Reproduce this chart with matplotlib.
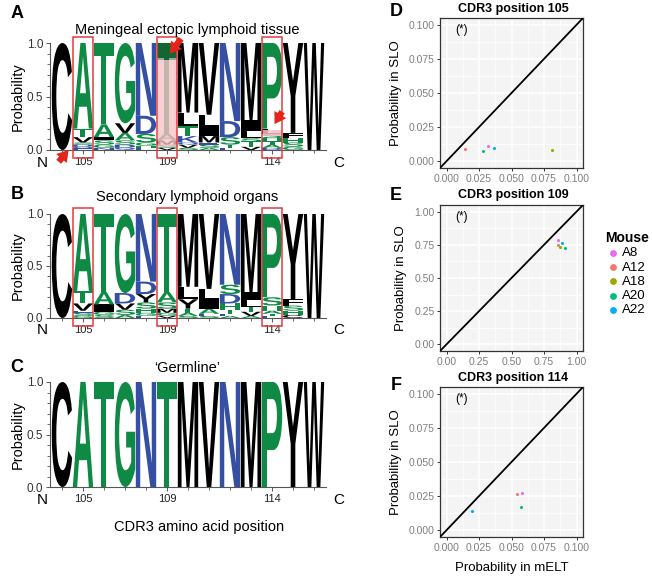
import numpy as np
import matplotlib
matplotlib.use('Agg')
import matplotlib.pyplot as plt
import matplotlib.transforms as mtransforms
from matplotlib.textpath import TextPath
from matplotlib.patches import PathPatch, Rectangle
from matplotlib.font_manager import FontProperties
from matplotlib.ticker import MultipleLocator, FixedLocator

plt.rcParams['font.family'] = ['Liberation Sans', 'DejaVu Sans']

# ---------------- data ----------------
positions = list(range(104, 117))
labelled_pos = [105, 109, 114]

# letters bottom -> top, heights in probability
melt_letters = ['C', 'EQDSVTA', 'NGSIAT', 'QDSAVG', 'EHGSDN', 'VSMAT', 'SVQKTLM',
                'ASEMILV', 'ETSDN', 'VTSLIM', 'DATHSLP', 'GSHFY', 'W']
melt_heights = [[1.0],
                [0.015, 0.015, 0.02, 0.02, 0.05, 0.08, 0.80],
                [0.02, 0.03, 0.04, 0.03, 0.12, 0.76],
                [0.02, 0.03, 0.04, 0.07, 0.09, 0.75],
                [0.02, 0.02, 0.03, 0.08, 0.17, 0.68],
                [0.02, 0.03, 0.04, 0.06, 0.85],
                [0.02, 0.03, 0.02, 0.06, 0.09, 0.13, 0.65],
                [0.02, 0.03, 0.02, 0.06, 0.08, 0.12, 0.67],
                [0.02, 0.03, 0.07, 0.15, 0.73],
                [0.03, 0.05, 0.03, 0.07, 0.10, 0.72],
                [0.02, 0.03, 0.03, 0.03, 0.04, 0.05, 0.80],
                [0.03, 0.04, 0.04, 0.05, 0.84],
                [1.0]]

slo_letters = ['C', 'GSEVTA', 'SGIAT', 'ASVDG', 'EGHSYDN', 'VGMSAT', 'SATYLM',
               'SEAILV', 'AETHDSN', 'AVTLIM', 'ETAHSP', 'CHSFY', 'W']
slo_heights = [[1.0],
               [0.02, 0.03, 0.02, 0.07, 0.12, 0.74],
               [0.03, 0.03, 0.07, 0.12, 0.75],
               [0.03, 0.05, 0.06, 0.10, 0.76],
               [0.02, 0.03, 0.04, 0.06, 0.08, 0.12, 0.65],
               [0.02, 0.03, 0.04, 0.06, 0.10, 0.75],
               [0.02, 0.03, 0.04, 0.09, 0.12, 0.70],
               [0.02, 0.02, 0.05, 0.08, 0.11, 0.72],
               [0.02, 0.02, 0.04, 0.06, 0.09, 0.09, 0.68],
               [0.02, 0.04, 0.05, 0.06, 0.08, 0.75],
               [0.02, 0.02, 0.03, 0.05, 0.08, 0.80],
               [0.03, 0.04, 0.05, 0.06, 0.82],
               [1.0]]

germline = 'CATGNTMVNMPYW'

mice = ['A8', 'A12', 'A18', 'A20', 'A22']
mouse_colors = ['#E76BF3', '#F8766D', '#A3A500', '#00BF7D', '#00B0F6']
p105_melt = [0.032, 0.0143, 0.081, 0.028, 0.0366]
p105_slo = [0.011, 0.0088, 0.0083, 0.0076, 0.0096]
p109_melt = [0.858, 0.858, 0.876, 0.915, 0.891]
p109_slo = [0.788, 0.745, 0.737, 0.729, 0.767]
p114_melt = [0.058, 0.0546, np.nan, 0.057, 0.0198]
p114_slo = [0.0275, 0.0267, np.nan, 0.0172, 0.0142]

# ---------------- styling ----------------
GREEN = '#0E8A44'
BLUE = '#3550A3'
BLACK = '#000000'
RED = '#E23A3F'
aa_color = {}
for c in 'ATGSPH':
    aa_color[c] = GREEN
for c in 'NDKEQR':
    aa_color[c] = BLUE
for c in 'CMVYWLIF':
    aa_color[c] = BLACK

W, H = 652, 582
fig = plt.figure(figsize=(6.52, 5.82), dpi=100)


def fx(px):
    return px / W


def fy(py):
    return 1 - py / H


def ax_px(left, top, right, bottom):
    return fig.add_axes([fx(left), fy(bottom), (right - left) / W, (bottom - top) / H])


fp = FontProperties(family='Liberation Sans', weight='bold')


def draw_letter(ax, ch, x, y0, h, color, w=0.97):
    tp = TextPath((0, 0), ch, size=1, prop=fp)
    ext = tp.get_extents()
    t = (mtransforms.Affine2D()
         .translate(-ext.x0, -ext.y0)
         .scale(w / ext.width, h / ext.height)
         .translate(x - w / 2, y0))
    ax.add_patch(PathPatch(t.transform_path(tp), fc=color, ec='none', lw=0, zorder=2))


def setup_logo(ax, title, title_y):
    ax.set_xlim(103.43, 116.57)
    ax.set_ylim(0, 1.0)
    for s in ['top', 'right']:
        ax.spines[s].set_visible(False)
    for s in ['left', 'bottom']:
        ax.spines[s].set_color('#555555')
        ax.spines[s].set_linewidth(0.8)
    ax.set_yticks([0, 0.5, 1.0])
    ax.set_yticklabels(['0.0', '0.5', '1.0'], fontsize=8.5, color='#333333')
    ax.yaxis.set_minor_locator(MultipleLocator(0.1))
    ax.xaxis.set_major_locator(FixedLocator(labelled_pos))
    ax.set_xticklabels([str(p) for p in labelled_pos], fontsize=8, color='#222222')
    ax.xaxis.set_minor_locator(FixedLocator(positions))
    ax.tick_params(axis='both', which='major', length=3, width=0.7, color='#555555', pad=2)
    ax.tick_params(axis='both', which='minor', length=2, width=0.6, color='#555555')
    ax.patch.set_alpha(0)
    ax.text(103.05, -0.12, 'N', ha='center', va='center', fontsize=11, clip_on=False)
    ax.text(117.2, -0.12, 'C', ha='center', va='center', fontsize=11, clip_on=False)
    fig.text(fx(187), fy(title_y), title, ha='center', va='center', fontsize=10.5)
    bb = ax.get_position()
    fig.text(fx(18), (bb.y0 + bb.y1) / 2, 'Probability', rotation=90,
             ha='center', va='center', fontsize=10.5)


def draw_stacks(ax, letters, heights):
    for pos, lets, hs in zip(positions, letters, heights):
        y = 0.0
        for ch, h in zip(lets, hs):
            draw_letter(ax, ch, pos, y, h, aa_color[ch])
            y += h


def red_boxes(ax):
    for p in labelled_pos:
        ax.add_patch(Rectangle((p - 0.48, -0.075), 0.96, 1.13, fill=False,
                               ec=RED, lw=1.1, zorder=5, clip_on=False))


def arrow(ax, tail, head):
    ax.annotate('', xy=head, xytext=tail, annotation_clip=False,
                arrowprops=dict(arrowstyle='simple,head_width=1.0,head_length=0.8,tail_width=0.45',
                                color='#E1251B', lw=0), zorder=6)


# ---------------- logo A ----------------
axA = ax_px(50, 43, 326, 150)
draw_stacks(axA, melt_letters, melt_heights)
axA.add_patch(Rectangle((108.56, 0.03), 0.9, 0.81, fc='#F7C2C6', alpha=0.78, ec='none', zorder=3))
axA.add_patch(Rectangle((108.56, 0.84), 0.9, 0.16, fc='#1E3A1E', alpha=0.45, ec='none', zorder=3))
axA.add_patch(Rectangle((113.56, 0.13), 0.9, 0.06, fc='#F7C2C6', alpha=0.85, ec='none', zorder=3))
red_boxes(axA)
setup_logo(axA, 'Meningeal ectopic lymphoid tissue', 30)
arrow(axA, (103.76, -0.13), (104.4, 0.02))
arrow(axA, (109.75, 1.06), (109.05, 0.88))
arrow(axA, (114.55, 0.38), (114.05, 0.22))

# ---------------- logo B ----------------
axB = ax_px(50, 214, 326, 318)
draw_stacks(axB, slo_letters, slo_heights)
red_boxes(axB)
setup_logo(axB, 'Secondary lymphoid organs', 197)

# ---------------- logo C ----------------
axC = ax_px(50, 382, 326, 487)
draw_stacks(axC, list(germline), [[1.0]] * len(germline))
setup_logo(axC, '\u2018Germline\u2019', 368)
fig.text(fx(199), fy(527), 'CDR3 amino acid position', ha='center', va='center', fontsize=10.5)

# panel letters
for lab, (px, py) in {'A': (17, 13), 'B': (17, 195), 'C': (17, 368),
                      'D': (396, 12), 'E': (396, 196), 'F': (396, 385)}.items():
    fig.text(fx(px), fy(py), lab, ha='center', va='center', fontsize=13, fontweight='bold')


# ---------------- scatter panels ----------------
def scatter_panel(ax, xs, ys, lim, ticks, fmt, title, title_y):
    ax.set_facecolor('#F4F4F4')
    for s in ax.spines.values():
        s.set_color('#333333')
        s.set_linewidth(0.9)
    pad = (lim[1] - lim[0]) * 0.05
    ax.set_xlim(lim[0] - pad, lim[1] + pad)
    ax.set_ylim(lim[0] - pad, lim[1] + pad)
    ax.set_xticks(ticks)
    ax.set_yticks(ticks)
    ax.set_xticklabels([fmt.format(t) for t in ticks])
    ax.set_yticklabels([fmt.format(t) for t in ticks])
    mids = [(a + b) / 2 for a, b in zip(ticks[:-1], ticks[1:])]
    ax.xaxis.set_minor_locator(FixedLocator(mids))
    ax.yaxis.set_minor_locator(FixedLocator(mids))
    ax.grid(which='major', color='white', lw=1.1)
    ax.grid(which='minor', color='white', lw=0.55)
    ax.set_axisbelow(True)
    ax.tick_params(which='major', labelsize=7.5, labelcolor='#7F7F7F', color='#333333',
                   length=2.5, width=0.7, pad=1.5)
    ax.tick_params(which='minor', length=0)
    ax.axline((0, 0), slope=1, color='black', lw=1.3, zorder=3)
    for xv, yv, col, m in zip(xs, ys, mouse_colors, mice):
        ax.scatter([xv], [yv], s=5, color=col, lw=0, zorder=4, label=m)
    ax.text(lim[0] + pad * 1.4, lim[1] - pad * 0.8, '(*)', fontsize=8.5, ha='left', va='center')
    fig.text(fx(513), fy(title_y), title, ha='center', va='center', fontsize=9, fontweight='bold')
    ax.set_ylabel('Probability in SLO', fontsize=9.5, labelpad=5)


small_ticks = [0.0, 0.025, 0.05, 0.075, 0.1]
big_ticks = [0.0, 0.25, 0.5, 0.75, 1.0]

axD = ax_px(440, 18, 583, 168)
scatter_panel(axD, p105_melt, p105_slo, (0, 0.1), small_ticks, '{:.3f}', 'CDR3 position 105', 9)

axE = ax_px(440, 205, 583, 351)
scatter_panel(axE, p109_melt, p109_slo, (0, 1.0), big_ticks, '{:.2f}', 'CDR3 position 109', 195)

axF = ax_px(440, 387, 583, 537)
scatter_panel(axF, p114_melt, p114_slo, (0, 0.1), small_ticks, '{:.3f}', 'CDR3 position 114', 378)
fig.text(fx(512), fy(568), 'Probability in mELT', ha='center', va='center', fontsize=9.5)

handles, labels = axE.get_legend_handles_labels()
leg = fig.legend(handles, labels, title='Mouse', loc='upper left',
                 bbox_to_anchor=(fx(600), fy(226)), frameon=False, fontsize=9.5,
                 markerscale=2.2, handletextpad=0.1, labelspacing=0.15,
                 borderaxespad=0, alignment='left', handlelength=1.2)
leg.get_title().set_fontweight('bold')
leg.get_title().set_fontsize(10)

fig.savefig('out.png', dpi=100)
